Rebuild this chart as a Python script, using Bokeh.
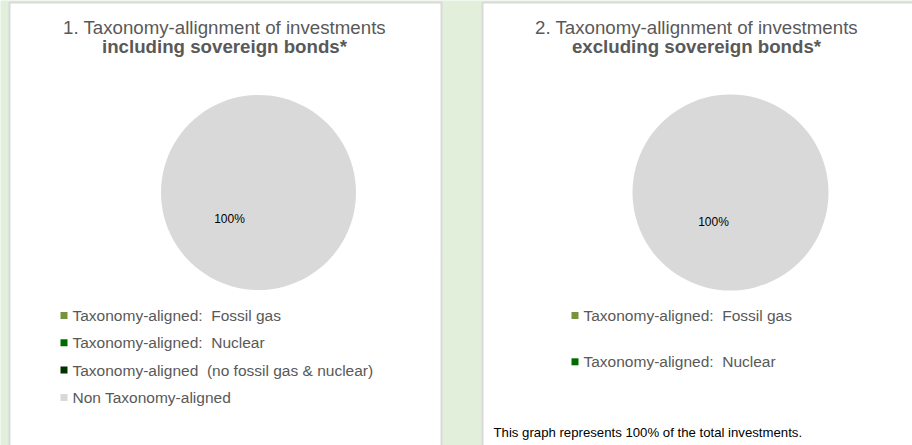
from bokeh.plotting import figure
from bokeh.models import Range1d, ColumnDataSource
from bokeh.core.properties import value
from bokeh.embed import file_html
from bokeh.resources import INLINE
import math

# ---- data ----
categories = [
    "Taxonomy-aligned:  Fossil gas",
    "Taxonomy-aligned:  Nuclear",
    "Taxonomy-aligned  (no fossil gas & nuclear)",
    "Non Taxonomy-aligned",
]
colors = ["#77933C", "#006C00", "#003300", "#D9D9D9"]
chart1_values = [0, 0, 0, 100]
chart2_values = [0, 0, 0, 100]
chart1_title = ["1. Taxonomy-allignment of investments", "including sovereign bonds*"]
chart2_title = ["2. Taxonomy-allignment of investments", "excluding sovereign bonds*"]
chart2_legend_count = 2
footnote = "This graph represents 100% of the total investments."

FONT = "Liberation Sans"
GREY_TXT = "#595959"
BG = "#E2EFDA"

W, H = 912, 445
p = figure(width=W, height=H, output_backend="svg", toolbar_location=None,
           x_range=Range1d(0, W), y_range=Range1d(H, 0),
           min_border=0, x_axis_location=None, y_axis_location=None)
p.grid.visible = False
p.outline_line_color = None
p.background_fill_color = BG
p.border_fill_color = BG

# panels
p.quad(left=[9, 482], right=[441, 920], top=[2, 2], bottom=[460, 460],
       fill_color="white", line_color="#D9D9D9", line_width=2)


def show(s):
    # keep visible double spaces
    return s.replace("  ", " \u00a0")


def draw_chart(vals, cx, cy, r, title, tx, label_off, legend_n, lx, ly0, lpitch):
    total = float(sum(vals))
    starts, ends, cols, vv = [], [], [], []
    a = math.pi / 2
    for v, c in zip(vals, colors):
        frac = v / total
        if v > 0:
            span = min(2 * math.pi * frac, 2 * math.pi - 1e-4)
            starts.append(a - span)
            ends.append(a)
            cols.append(c)
            vv.append(v)
        a -= 2 * math.pi * frac
    src = ColumnDataSource(dict(x=[cx] * len(vv), y=[cy] * len(vv),
                                s=starts, e=ends, c=cols, v=vv))
    p.wedge(x="x", y="y", radius=r, radius_units="screen", start_angle="s",
            end_angle="e", fill_color="c", line_color=None, source=src)
    # data labels
    labs = ["%d%%" % round(100 * v / total) for v in vv]
    p.text(x=[cx + label_off[0]] * len(labs), y=[cy + label_off[1]] * len(labs),
           text=labs, text_font=value(FONT), text_font_size="12px",
           text_color="#000000", text_align="center", text_baseline="middle")
    # title
    p.text(x=[tx], y=[27], text=[title[0]], text_font=value(FONT),
           text_font_size="18.7px", text_color=GREY_TXT, text_align="center",
           text_baseline="middle")
    p.text(x=[tx], y=[46], text=[title[1]], text_font=value(FONT),
           text_font_size="18.7px", text_font_style="bold", text_color=GREY_TXT,
           text_align="center", text_baseline="middle")
    # legend
    ys = [ly0 + i * lpitch for i in range(legend_n)]
    p.rect(x=[lx] * legend_n, y=ys, width=7, height=7, width_units="screen",
           height_units="screen", fill_color=colors[:legend_n], line_color=None)
    p.text(x=[lx + 8.5] * legend_n, y=ys, text=[show(c) for c in categories[:legend_n]],
           text_font=value(FONT), text_font_size="15.5px", text_color=GREY_TXT,
           text_align="left", text_baseline="middle")


draw_chart(chart1_values, 258, 192, 97.5, chart1_title, 224, (-29, 26),
           len(categories), 63.5, 315, 27.3)
draw_chart(chart2_values, 730, 192, 98, chart2_title, 696, (-17, 29),
           chart2_legend_count, 574.5, 315, 46.3)

p.text(x=[493], y=[432], text=[footnote], text_font=value(FONT),
       text_font_size="13.2px", text_color="#000000", text_align="left",
       text_baseline="middle")

html = file_html(p, INLINE)
html = html.replace("<body>", '<body style="background:%s">' % BG, 1)
open("out.html", "w").write(html)
